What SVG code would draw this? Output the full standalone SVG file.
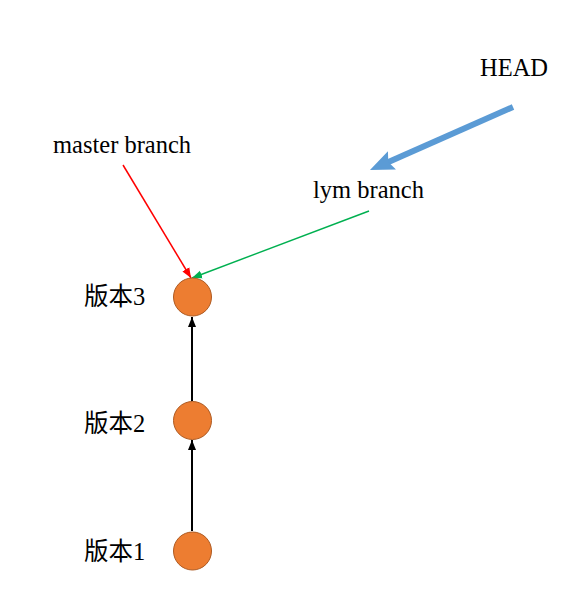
<svg xmlns="http://www.w3.org/2000/svg" width="583" height="607" viewBox="0 0 583 607">
<style>
.t{font-family:"Liberation Serif","Noto Sans CJK SC",serif;font-size:24.5px;fill:#000}
.c{fill:#ED7D31;stroke:#AE5A21;stroke-width:1}
</style>
<defs>
<marker id="ab" markerUnits="userSpaceOnUse" markerWidth="10" markerHeight="10" viewBox="0 0 10 10" refX="10" refY="5" orient="auto"><path d="M0,1 L10,5 L0,9 Z" fill="#000"/></marker>
<marker id="ar" markerUnits="userSpaceOnUse" markerWidth="10" markerHeight="10" viewBox="0 0 10 10" refX="10" refY="5" orient="auto"><path d="M0,1 L10,5 L0,9 Z" fill="#FF0000"/></marker>
<marker id="ag" markerUnits="userSpaceOnUse" markerWidth="10" markerHeight="10" viewBox="0 0 10 10" refX="10" refY="5" orient="auto"><path d="M0,1 L10,5 L0,9 Z" fill="#00B050"/></marker>
<marker id="abl" markerUnits="userSpaceOnUse" markerWidth="24" markerHeight="22" viewBox="0 0 24 22" refX="10" refY="11" orient="auto"><path d="M0,1 L24,11 L0,21 L4,11 Z" fill="#5B9BD5"/></marker>
</defs>
<g id="connectors">
<line x1="192" y1="531" x2="192" y2="440" stroke="#000" stroke-width="2" marker-end="url(#ab)"/>
<line x1="192" y1="401" x2="192" y2="317" stroke="#000" stroke-width="2" marker-end="url(#ab)"/>
<line x1="123" y1="165" x2="191" y2="278" stroke="#FF0000" stroke-width="1.5" marker-end="url(#ar)"/>
<line x1="369" y1="211" x2="192" y2="278" stroke="#00B050" stroke-width="1.5" marker-end="url(#ag)"/>
<line x1="513" y1="107" x2="382.8" y2="164.4" stroke="#5B9BD5" stroke-width="6" marker-end="url(#abl)"/>
</g>
<g id="v3"><circle class="c" cx="192.5" cy="297" r="19"/><text class="t" x="84" y="305">版本3</text></g>
<g id="v2"><circle class="c" cx="192.5" cy="420.5" r="19"/><text class="t" x="84" y="432">版本2</text></g>
<g id="v1"><circle class="c" cx="192.5" cy="551" r="19"/><text class="t" x="84" y="560">版本1</text></g>
<g id="master"><text class="t" x="53" y="153">master branch</text></g>
<g id="lym"><text class="t" x="313" y="198">lym branch</text></g>
<g id="head"><text class="t" x="480" y="76">HEAD</text></g>
</svg>
